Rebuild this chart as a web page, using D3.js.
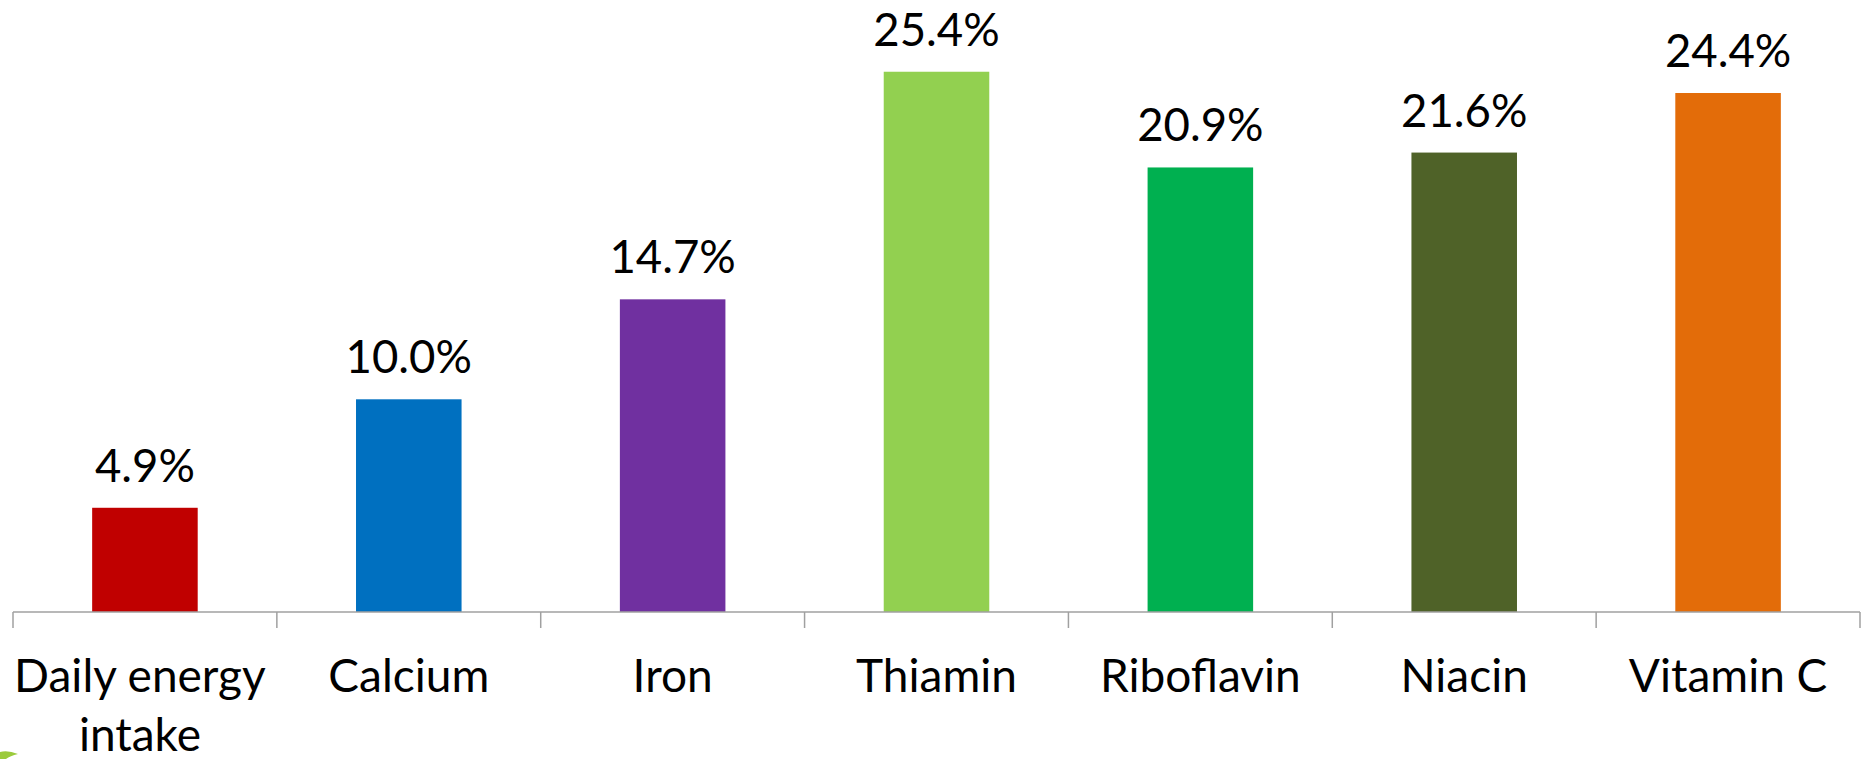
<!DOCTYPE html>
<html>
<head>
<meta charset="utf-8">
<script src="https://cdn.jsdelivr.net/npm/d3@7"></script>
<style>
  html, body { margin: 0; padding: 0; background: #fff; }
  svg { display: block; }
  text { font-family: Lato, "Open Sans", sans-serif; fill: #000; }
</style>
</head>
<body>
<svg id="chart" width="1863" height="759"></svg>
<script>
// Share of daily requirement met, by nutrient
const categories = ["Daily energy intake", "Calcium", "Iron", "Thiamin", "Riboflavin", "Niacin", "Vitamin C"];
const categoryLines = [["Daily energy", "intake"], ["Calcium"], ["Iron"], ["Thiamin"], ["Riboflavin"], ["Niacin"], ["Vitamin C"]];
const values = [4.9, 10.0, 14.7, 25.4, 20.9, 21.6, 24.4];
const valueLabels = ["4.9%", "10.0%", "14.7%", "25.4%", "20.9%", "21.6%", "24.4%"];
const barColors = ["#C00000", "#0070C0", "#7030A0", "#92D050", "#00B050", "#4F6228", "#E36C09"];

const svg = d3.select("#chart");
const baseY = 612;

const x = d3.scaleBand()
  .domain(categories)
  .range([13, 1860])
  .paddingInner(0.6)
  .paddingOuter(0.3);

const y = d3.scaleLinear()
  .domain([0, 30])
  .range([baseY, baseY - 21.27 * 30]);

// bars
svg.append("g").selectAll("rect")
  .data(categories)
  .join("rect")
  .attr("x", d => x(d))
  .attr("width", x.bandwidth())
  .attr("y", (d, i) => y(values[i]))
  .attr("height", (d, i) => y(0) - y(values[i]))
  .attr("fill", (d, i) => barColors[i]);

// value labels
svg.append("g").selectAll("text")
  .data(categories)
  .join("text")
  .attr("x", d => x(d) + x.bandwidth() / 2)
  .attr("y", (d, i) => y(values[i]) - 26)
  .attr("text-anchor", "middle")
  .attr("font-size", 45.5)
  .text((d, i) => valueLabels[i]);

// category axis: baseline and separators between categories
const axis = svg.append("g").attr("stroke", "#A0A0A0").attr("stroke-width", 1.5);
const [r0, r1] = x.range();
axis.append("line")
  .attr("x1", r0).attr("x2", r1)
  .attr("y1", y(0)).attr("y2", y(0));
d3.range(categories.length + 1).forEach(i => {
  const tx = Math.min(r0 + i * x.step(), r1);
  axis.append("line")
    .attr("x1", tx).attr("x2", tx)
    .attr("y1", y(0)).attr("y2", y(0) + 16);
});

// category labels
const lab = svg.append("g").selectAll("text")
  .data(categories)
  .join("text")
  .attr("x", d => x(d) + x.bandwidth() / 2 - (d === categories[0] ? 5 : 0))
  .attr("y", 692)
  .attr("text-anchor", "middle")
  .attr("font-size", 46);
lab.each(function (d, i) {
  const t = d3.select(this);
  categoryLines[i].forEach((line, k) => {
    t.append("tspan")
      .attr("x", t.attr("x"))
      .attr("dy", k === 0 ? 0 : 59)
      .text(line);
  });
});

// green corner swoosh
svg.append("path")
  .attr("d", "M0,759 L0,752 Q8,750 18,754 Q10,756 6,759 Z")
  .attr("fill", "#9BCB3C");
</script>
</body>
</html>
